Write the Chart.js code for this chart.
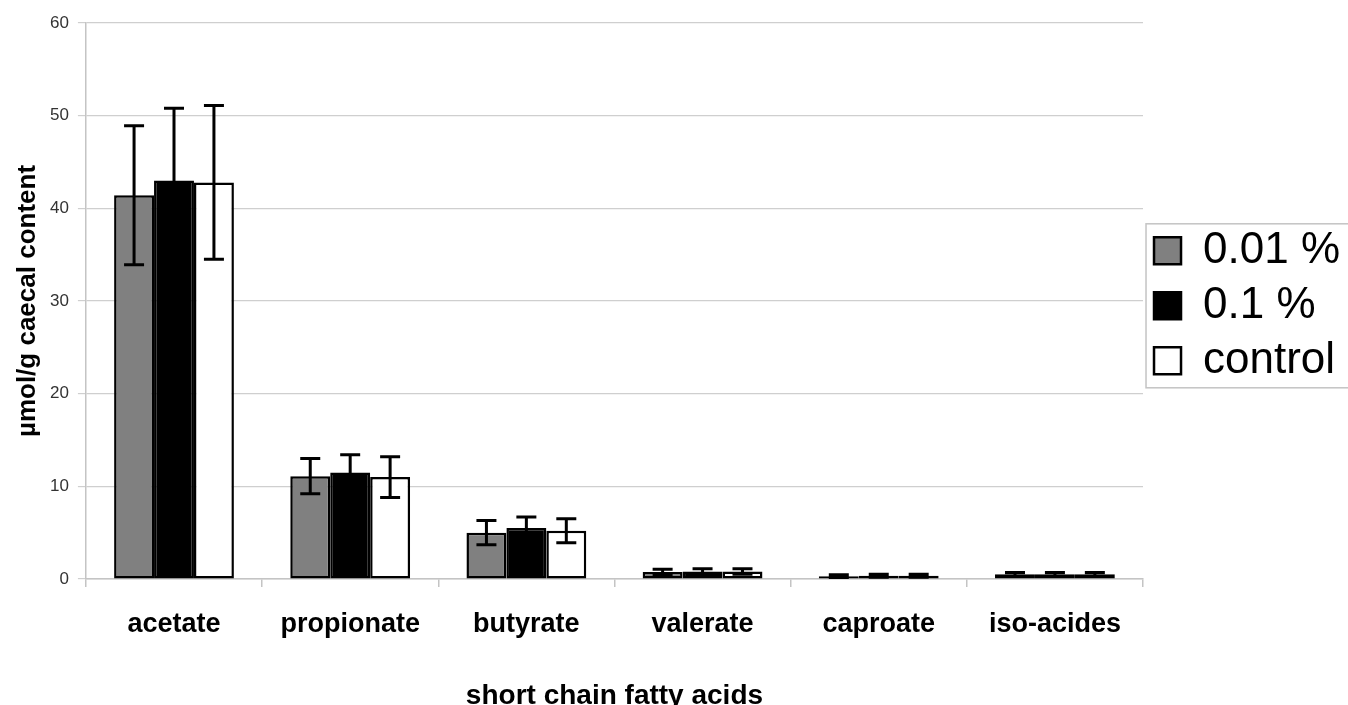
<!DOCTYPE html>
<html>
<head>
<meta charset="utf-8">
<script src="https://cdn.jsdelivr.net/npm/chart.js@4"></script>
<style>
  html, body { margin: 0; padding: 0; background: #fff; }
  #wrap { width: 1348px; height: 705px; }
</style>
</head>
<body>
<div id="wrap"><canvas id="chart" width="1348" height="705"></canvas></div>
<script>
const categories = ["acetate", "propionate", "butyrate", "valerate", "caproate", "iso-acides"];
const seriesNames = ["0.01 %", "0.1 %", "control"];
const lowDose = [41.4, 11.1, 5.0, 0.75, 0.3, 0.5];
const highDose = [43.0, 11.5, 5.5, 0.8, 0.35, 0.5];
const control = [42.8, 11.0, 5.2, 0.8, 0.35, 0.5];
const lowDoseErr = [7.5, 1.9, 1.3, 0.3, 0.15, 0.2];
const highDoseErr = [7.8, 1.9, 1.2, 0.3, 0.15, 0.2];
const controlErr = [8.3, 2.2, 1.3, 0.3, 0.15, 0.2];
const yTicks = [0, 10, 20, 30, 40, 50, 60];

const FONT = "'Liberation Sans', Arial, Helvetica, sans-serif";

// error bars drawn from the bar elements and the y scale
const errorBars = {
    id: "errorBars",
    afterDatasetsDraw(chart) {
        const ctx = chart.ctx;
        const y = chart.scales.y;
        ctx.save();
        ctx.strokeStyle = "#000";
        ctx.lineWidth = 3;
        chart.data.datasets.forEach((ds, di) => {
            const meta = chart.getDatasetMeta(di);
            meta.data.forEach((bar, i) => {
                const v = ds.data[i];
                const e = ds.errors[i];
                const top = y.getPixelForValue(v + e);
                const bot = y.getPixelForValue(Math.max(0, v - e));
                const cap = 10;
                ctx.beginPath();
                ctx.moveTo(bar.x, top);
                ctx.lineTo(bar.x, bot);
                ctx.moveTo(bar.x - cap, top);
                ctx.lineTo(bar.x + cap, top);
                ctx.moveTo(bar.x - cap, bot);
                ctx.lineTo(bar.x + cap, bot);
                ctx.stroke();
            });
        });
        ctx.restore();
    },
};

// frame round the legend, running off the right edge like the original
const legendFrame = {
    id: "legendFrame",
    afterDraw(chart) {
        const boxes = chart.legend && chart.legend.legendHitBoxes;
        if (!boxes || !boxes.length) return;
        const left = Math.min(...boxes.map((b) => b.left)) - 8;
        const top = Math.min(...boxes.map((b) => b.top)) - 5;
        const bottom = Math.max(...boxes.map((b) => b.top + b.height)) + 5;
        const ctx = chart.ctx;
        ctx.save();
        ctx.strokeStyle = "#c4c4c4";
        ctx.lineWidth = 1.5;
        ctx.strokeRect(left, top, chart.width - left + 5, bottom - top);
        ctx.restore();
    },
};

const data = {
    labels: categories,
    datasets: [
        {
            label: seriesNames[0],
            data: lowDose,
            errors: lowDoseErr,
            backgroundColor: "#808080",
        },
        {
            label: seriesNames[1],
            data: highDose,
            errors: highDoseErr,
            backgroundColor: "#000000",
        },
        {
            label: seriesNames[2],
            data: control,
            errors: controlErr,
            backgroundColor: "#ffffff",
        },
    ].map((d) => Object.assign(d, {
        borderColor: "#000",
        borderWidth: 2.5,
        borderSkipped: false,
        categoryPercentage: 0.68,
        barPercentage: 1.0,
    })),
};

new Chart(document.getElementById("chart"), {
    type: "bar",
    data: data,
    plugins: [errorBars, legendFrame],
    options: {
        responsive: false,
        animation: false,
        layout: { padding: { top: 23, left: 4, right: -2, bottom: -8 } },
        plugins: {
            tooltip: { enabled: false },
            legend: {
                position: "right",
                align: "center",
                fullSize: false,
                title: {
                    display: true,
                    text: " ",
                    padding: 0,
                    font: { family: FONT, size: 8 },
                },
                labels: {
                    boxWidth: 27,
                    boxHeight: 27,
                    padding: 11,
                    color: "#000",
                    font: { family: FONT, size: 44 },
                },
            },
        },
        scales: {
            x: {
                offset: true,
                grid: {
                    offset: true,
                    drawOnChartArea: false,
                    color: "#c4c4c4",
                    tickLength: 8,
                    lineWidth: 1.5,
                },
                border: { color: "#c4c4c4", width: 1.5 },
                ticks: {
                    padding: 21,
                    color: "#000",
                    font: { family: FONT, size: 27, weight: "bold" },
                },
                title: {
                    display: true,
                    text: "short chain fatty acids",
                    color: "#000",
                    padding: { top: 18, bottom: 0 },
                    font: { family: FONT, size: 28, weight: "bold" },
                },
            },
            y: {
                min: 0,
                max: 60,
                afterBuildTicks(axis) {
                    axis.ticks = yTicks.map((v) => ({ value: v }));
                },
                grid: { color: "#cfcfcf", tickLength: 8, lineWidth: 1.2 },
                border: { color: "#c4c4c4", width: 1.5 },
                ticks: {
                    padding: 9,
                    color: "#333",
                    font: { family: FONT, size: 17 },
                },
                title: {
                    display: true,
                    text: "µmol/g caecal content",
                    color: "#000",
                    padding: { top: 11, bottom: 0 },
                    font: { family: FONT, size: 26, weight: "bold", lineHeight: 1 },
                },
            },
        },
    },
});
</script>
</body>
</html>
